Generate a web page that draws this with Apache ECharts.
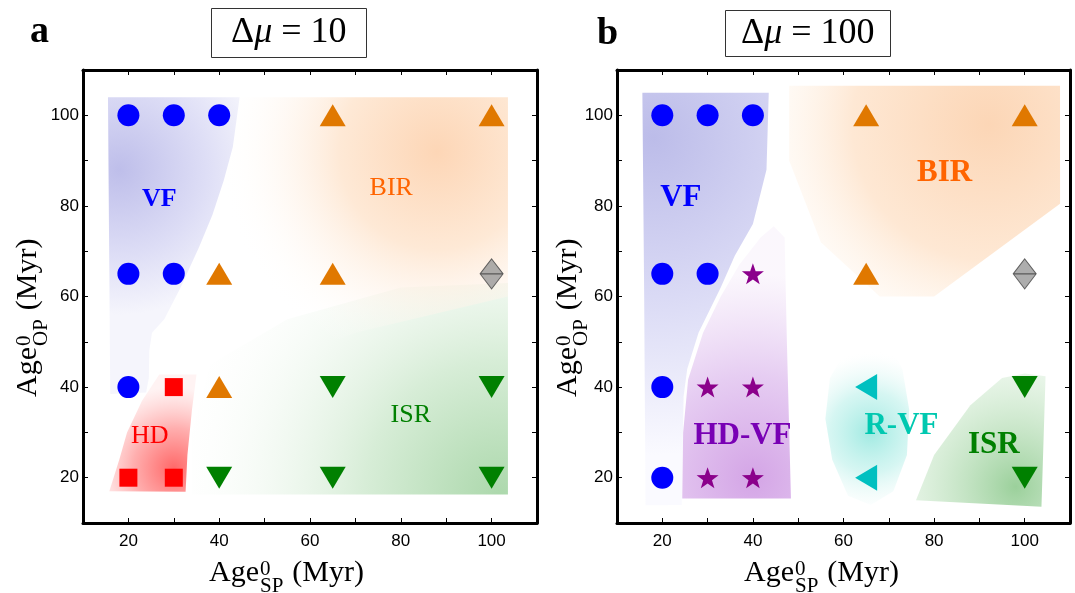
<!DOCTYPE html>
<html><head><meta charset="utf-8">
<script src="https://cdn.jsdelivr.net/npm/echarts@6/dist/echarts.min.js"></script>
<style>html,body{margin:0;padding:0;background:#fff}#c{width:1075px;height:593px}</style>
</head><body><div id="c"></div>
<script>
// ---------------- data (axis units, Myr) ----------------
const tickValues = [20, 40, 60, 80, 100];

// panel a (Δμ = 10)
const vfA      = [[20,100],[30,100],[40,100],[20,65],[30,65],[20,40]];
const birA     = [[65,100],[100,100],[40,65],[65,65],[40,40]];
const isrA     = [[65,40],[100,40],[40,20],[65,20],[100,20]];
const hdA      = [[30,40],[20,20],[30,20]];
const grayA    = [[100,65]];

// panel b (Δμ = 100)
const vfB      = [[20,100],[30,100],[40,100],[20,65],[30,65],[20,40],[20,20]];
const birB     = [[65,100],[100,100],[65,65]];
const grayB    = [[100,65]];
const hdvfB    = [[40,65],[30,40],[40,40],[30,20],[40,20]];
const rvfB     = [[65,40],[65,20]];
const isrB     = [[100,40],[100,20]];

// region labels [text, x, y]
const labelsA = [['VF',26.8,81.5],['BIR',77.9,84],['ISR',82.2,33.7],['HD',24.7,29.2]];
const labelsB = [['VF',24.1,81.8],['BIR',82.3,87.3],['HD-VF',37.7,29.3],['R-VF',72.8,31.5],['ISR',93.2,27.3]];

// shaded region outlines (data coords)
const regVF_A  = [[15.5,104],[44.5,104],[43,93],[41,85.6],[38.5,78],[35.6,71],[31.5,62],[27.9,55],[25.2,52],[24.6,48],[24.5,42],[23.9,38.8],[16,38.5]];
const regHD_A  = [[26.8,42.8],[35,42.8],[34,35],[33,25],[32.6,16.9],[15.8,17],[18,24],[19.7,30],[23,37]];
const regBIR_A = [[36,38],[36,62],[44,104],[103.6,104],[103.6,60],[70,52]];
const regISR_A = [[34,16.3],[103.6,16.3],[103.6,63],[80,62],[55,55],[38,45],[34,30]];

const regVF_B  = [[15.6,105],[43.5,105],[43,88],[40,76],[36,69],[32.9,62],[28,52],[25.5,44],[24.7,38],[24.3,14],[16.3,13.9],[16,60]];
const regHDVF_B= [[41.7,73],[44.6,75.5],[47,73],[47.5,50],[48.4,15.4],[24.4,15.4],[24.6,30],[25.7,41.7],[29,52],[32.9,60],[37,67]];
const regRVF_B = [[66,52],[70,50],[73,44],[74.5,35],[74,25],[71,17],[66,14],[61,16],[57.5,24],[56,33],[57,42],[61,49]];
const regBIR_B = [[48,106.5],[107.8,106.5],[107.8,80.5],[80,60],[68,60],[55,72],[48,90]];
const regISR_B = [[104.6,42.4],[103.7,13.6],[76,15],[80,25],[88,36],[95,42],[100,43]];

// ---------------- styles ----------------
const C = {blue:'#0000ff', orange:'#e07800', green:'#008000', red:'#ff0000', gray:'#999999', purple:'#8b008b', cyan:'#00c0c0'};
const labelColors = {VF:'#0000ff', BIR:'#ff6400', ISR:'#008000', HD:'#ff0000', 'HD-VF':'#7800b4', 'R-VF':'#00c8b0'};
const STAR = 'path://M0,-10 L2.35,-3.24 L9.51,-3.09 L3.8,1.24 L5.88,8.09 L0,4 L-5.88,8.09 L-3.8,1.24 L-9.51,-3.09 L-2.35,-3.24 Z';
const DIAMOND = 'path://M0,-15 L11,0 L0,15 L-11,0 Z M-11,0 L11,0';

const chart = echarts.init(document.getElementById('c'), null, {renderer:'canvas'});

const grids = [
  {left:83, top:70, width:454, height:453},
  {left:617, top:70, width:453, height:453}
];

const xAxes = [], yAxes = [];
grids.forEach((g, gi) => {
  const base = {type:'value', min:10, max:110, interval:10, gridIndex:gi,
    axisLine:{show:true, onZero:false, lineStyle:{color:'#000', width:3}},
    axisTick:{show:true, inside:true, length:5, lineStyle:{color:'#000', width:1}},
    splitLine:{show:false}};
  const lab = {show:true, color:'#000', fontSize:17, fontFamily:'Liberation Sans',
    formatter: v => tickValues.indexOf(v) >= 0 ? String(v) : ''};
  xAxes.push(Object.assign({}, base, {position:'bottom', axisLabel:Object.assign({}, lab, {margin:10})}));
  xAxes.push(Object.assign({}, base, {position:'top', axisLabel:{show:false}}));
  yAxes.push(Object.assign({}, base, {position:'left', axisLabel:Object.assign({}, lab, {margin:4})}));
  yAxes.push(Object.assign({}, base, {position:'right', axisLabel:{show:false}}));
});
const AX = [0, 2]; // axis index of bottom/left for each grid

function region(gi, pts, center, r, stops) {
  return {
    type:'custom', xAxisIndex:AX[gi], yAxisIndex:AX[gi], silent:true, z:1,
    data:[[center[0], center[1]]],
    renderItem: (params, api) => {
      const c = api.coord(center);
      const rp = api.size([r, 0])[0];
      return {
        type:'polygon',
        shape:{points: pts.map(p => api.coord(p))},
        style:{fill: new echarts.graphic.RadialGradient(c[0], c[1], rp,
          stops.map(s => ({offset:s[0], color:s[1]})), true)}
      };
    }
  };
}

function marks(gi, data, color, symbol, size, extra) {
  return Object.assign({
    type:'scatter', xAxisIndex:AX[gi], yAxisIndex:AX[gi], z:5, silent:true,
    data, symbol, symbolSize:size, itemStyle:{color, opacity:1}
  }, extra || {});
}

function labels(gi, arr, size, boldNames) {
  return {
    type:'custom', xAxisIndex:AX[gi], yAxisIndex:AX[gi], z:6, silent:true,
    data: arr.map(a => [a[1], a[2]]),
    renderItem: (params, api) => {
      const a = arr[params.dataIndex];
      const p = api.coord([api.value(0), api.value(1)]);
      const bold = boldNames.indexOf(a[0]) >= 0;
      return {type:'text', x:p[0], y:p[1], style:{
        text:a[0], fill:labelColors[a[0]], align:'center', verticalAlign:'middle',
        font:(bold ? 'bold ' : '') + size + 'px "Liberation Serif"'}};
    }
  };
}

const series = [
  // panel a regions
  region(0, regISR_A, [102,16], 75, [[0,'rgb(172,216,172)'],[0.4,'rgb(215,237,215)'],[1,'rgba(255,255,255,0)']]),
  region(0, regBIR_A, [88,92], 48, [[0,'rgb(253,214,182)'],[0.45,'rgb(254,233,214)'],[1,'rgba(255,255,255,0)']]),
  region(0, regVF_A, [18,88], 32, [[0,'rgb(190,190,234)'],[0.6,'rgb(222,222,246)'],[1,'rgb(245,245,252)']]),
  region(0, regHD_A, [30,22], 18, [[0,'rgb(255,105,105)'],[0.5,'rgb(255,175,175)'],[1,'rgba(255,235,235,0.6)']]),
  // panel b regions
  region(1, regBIR_B, [92,98], 50, [[0,'rgb(252,214,182)'],[0.6,'rgb(254,232,212)'],[1,'rgba(255,248,240,0.3)']]),
  region(1, regISR_B, [98,18], 35, [[0,'rgb(155,208,155)'],[1,'rgba(240,250,240,0.4)']]),
  region(1, regVF_B, [18,95], 70, [[0,'rgb(188,188,233)'],[0.5,'rgb(218,218,245)'],[1,'rgb(250,250,255)']]),
  region(1, regHDVF_B, [40,20], 45, [[0,'rgb(212,165,230)'],[0.5,'rgb(230,205,242)'],[1,'rgba(250,245,252,0.8)']]),
  region(1, regRVF_B, [66,30], 18, [[0,'rgb(160,234,226)'],[0.5,'rgba(200,243,238,0.75)'],[0.85,'rgba(235,250,248,0.3)'],[1,'rgba(255,255,255,0)']]),
  // panel a markers
  marks(0, vfA, C.blue, 'circle', 22),
  marks(0, birA, C.orange, 'triangle', [26,22]),
  marks(0, isrA, C.green, 'triangle', [26,22], {symbolRotate:180}),
  marks(0, hdA, C.red, 'rect', 18),
  marks(0, grayA, C.gray, DIAMOND, [23,30], {itemStyle:{color:C.gray, borderColor:'#444', borderWidth:1}}),
  // panel b markers
  marks(1, vfB, C.blue, 'circle', 22),
  marks(1, birB, C.orange, 'triangle', [26,22]),
  marks(1, grayB, C.gray, DIAMOND, [23,30], {itemStyle:{color:C.gray, borderColor:'#444', borderWidth:1}}),
  marks(1, hdvfB, C.purple, STAR, [22,21]),
  marks(1, rvfB, C.cyan, 'triangle', [26,22], {symbolRotate:90}),
  marks(1, isrB, C.green, 'triangle', [26,22], {symbolRotate:180}),
  // labels
  labels(0, labelsA, 26, ['VF']),
  labels(1, labelsB, 31, ['VF','BIR','HD-VF','R-VF','ISR'])
];

// ---------- axis titles (Age^0_SP / Age^0_OP) ----------
const ctx = document.createElement('canvas').getContext('2d');
function tw(text, font) { ctx.font = font; return ctx.measureText(text).width; }
function axisTitle(x, y, rotation, sub) {
  const F = 'Liberation Serif';
  const wAge = tw('Age', '30px "' + F + '"');
  const wSub = tw(sub, '21px "' + F + '"');
  const children = [
    {type:'text', style:{text:'Age', x:0, y:-8.4, font:'30px "' + F + '"', fill:'#000', verticalAlign:'middle'}},
    {type:'text', style:{text:'0', x:wAge + 1, y:-12.9, font:'21px "' + F + '"', fill:'#000', verticalAlign:'middle'}},
    {type:'text', style:{text:sub, x:wAge + 1, y:4.1, font:'21px "' + F + '"', fill:'#000', verticalAlign:'middle'}},
    {type:'text', style:{text:'(Myr)', x:wAge + 1 + wSub + 9, y:-8.4, font:'30px "' + F + '"', fill:'#000', verticalAlign:'middle'}}
  ];
  return {type:'group', x, y, rotation, children, silent:true};
}

chart.setOption({
  animation:false,
  backgroundColor:'#fff',
  grid:grids,
  xAxis:xAxes,
  yAxis:yAxes,
  title:[
    {text:'Δ{m|μ} = 10', left:211, top:8, borderColor:'#333', borderWidth:1, padding:[6,20,6,20],
     textStyle:{fontFamily:'Liberation Serif', fontSize:36, fontWeight:'normal', color:'#000', lineHeight:38,
       rich:{m:{fontFamily:'Liberation Serif', fontSize:36, fontStyle:'italic', lineHeight:38}}}},
    {text:'Δ{m|μ} = 100', left:725, top:10, borderColor:'#333', borderWidth:1, padding:[5,16,5,16],
     textStyle:{fontFamily:'Liberation Serif', fontSize:36, fontWeight:'normal', color:'#000', lineHeight:37,
       rich:{m:{fontFamily:'Liberation Serif', fontSize:36, fontStyle:'italic', lineHeight:37}}}}
  ],
  graphic:[
    {type:'text', style:{text:'a', x:30, y:32, font:'bold 38px "Liberation Serif"', fill:'#000', verticalAlign:'middle'}},
    {type:'text', style:{text:'b', x:597, y:34, font:'bold 38px "Liberation Serif"', fill:'#000', verticalAlign:'middle'}},
    axisTitle(209, 582, 0, 'SP'),
    axisTitle(744, 582, 0, 'SP'),
    axisTitle(37, 397, Math.PI/2, 'OP'),
    axisTitle(577, 397, Math.PI/2, 'OP')
  ],
  series
});
</script></body></html>
